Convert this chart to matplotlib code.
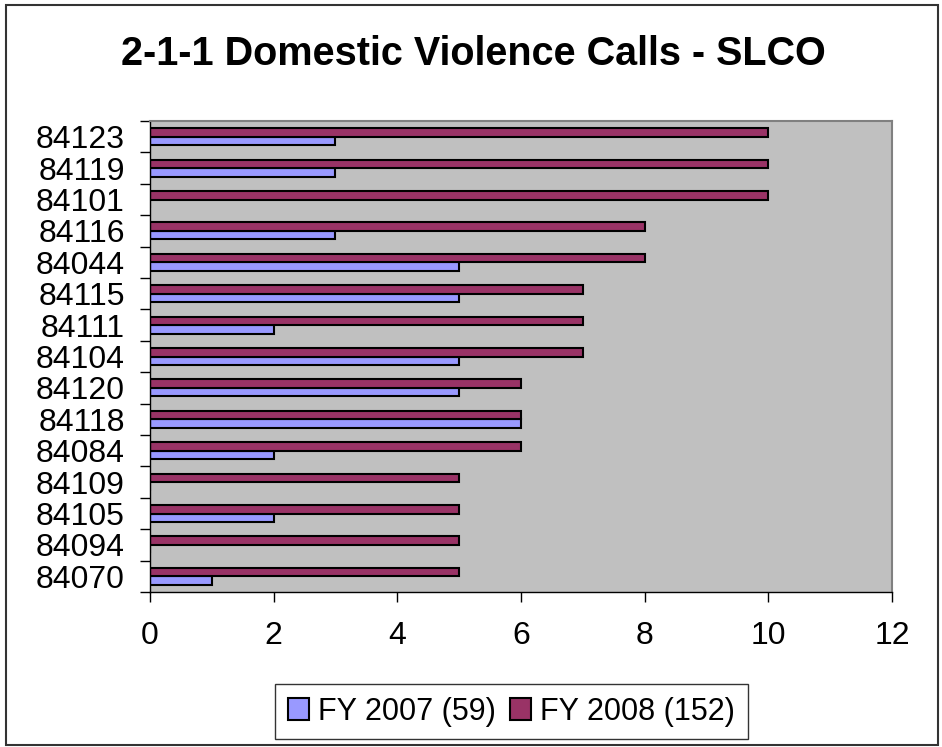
import numpy as np
import matplotlib.pyplot as plt
from matplotlib.patches import Rectangle

plt.rcParams['font.family'] = ['Liberation Sans', 'DejaVu Sans']

zips = ["84070", "84094", "84105", "84109", "84084", "84118", "84120", "84104",
        "84111", "84115", "84044", "84116", "84101", "84119", "84123"]
fy2007 = [1, 0, 2, 0, 2, 6, 5, 5, 2, 5, 5, 3, 0, 3, 3]
fy2008 = [5, 5, 5, 5, 6, 6, 6, 7, 7, 7, 8, 8, 10, 10, 10]

fig = plt.figure(figsize=(9.42, 7.47), dpi=100)
ax = fig.add_axes([0.1592, 0.2075, 0.7877, 0.6305])
ax.set_facecolor('#C0C0C0')

y = np.arange(len(zips))
h = 0.27
ax.barh(y - h / 2, fy2007, height=h, color='#9999FF', edgecolor='black', linewidth=1.5,
        label='FY 2007 (59)')
ax.barh(y + h / 2, fy2008, height=h, color='#993366', edgecolor='black', linewidth=1.5,
        label='FY 2008 (152)')

ax.set_xlim(0, 12)
ax.set_ylim(-0.5, len(zips) - 0.5)
ax.set_xticks(range(0, 13, 2))
ax.set_yticks(y)
ax.set_yticklabels(zips)
ax.set_yticks(np.arange(-0.5, len(zips), 1), minor=True)
ax.tick_params(axis='y', which='major', length=0, labelsize=23, pad=18)
ax.tick_params(axis='y', which='minor', length=7, width=1, direction='out')
ax.tick_params(axis='x', length=7, width=1, direction='out', labelsize=23, pad=14)

for s in ['top', 'right']:
    ax.spines[s].set_color('#808080')
    ax.spines[s].set_linewidth(1.5)
for s in ['left', 'bottom']:
    ax.spines[s].set_color('black')
    ax.spines[s].set_linewidth(1)

fig.text(0.502, 0.913, '2-1-1 Domestic Violence Calls - SLCO', ha='center', va='baseline',
         fontsize=28.5, fontweight='bold')

leg = fig.legend(loc='center', bbox_to_anchor=(0.543, 0.0475), ncol=2, fontsize=22,
                 frameon=True, fancybox=False, edgecolor='black', handlelength=0.7,
                 handleheight=0.7, handletextpad=0.3, columnspacing=0.45, borderpad=0.4,
                 borderaxespad=0)
leg.get_frame().set_linewidth(1)

fig.add_artist(Rectangle((0.0064, 0.0027), 0.989, 0.9906, transform=fig.transFigure,
                         fill=False, edgecolor='#333333', linewidth=1.5))

fig.savefig('out.png', dpi=100)
